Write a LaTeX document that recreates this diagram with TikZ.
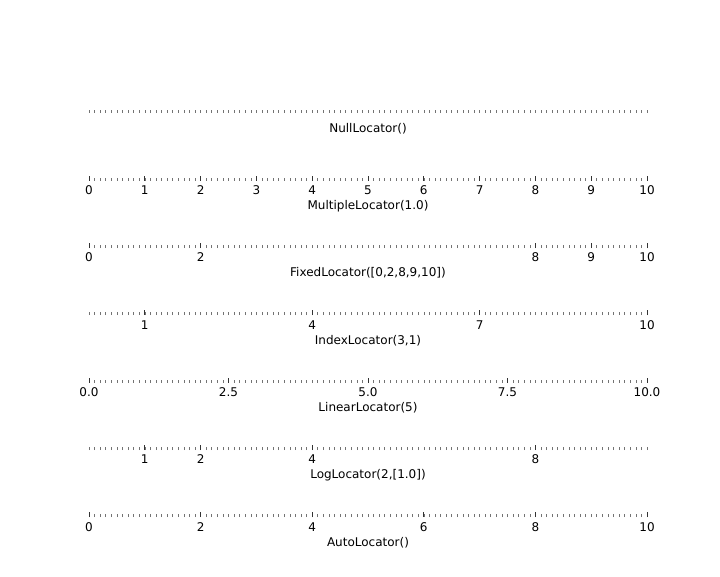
\documentclass[tikz,border=0pt]{standalone}
\usepackage{fontspec}
\setmainfont{DejaVu Sans}
\newcommand\minorrow[1]{%
  \foreach \k in {0,...,100} {\draw[minortick] ({89+5.58*\k},#1+0.5) -- ++(0,-3);}%
}
\begin{document}
\begin{tikzpicture}[x=1pt,y=-1pt,
  majortick/.style={line width=0.9pt, black!80},
  minortick/.style={line width=0.6pt, black!55},
  ticklabel/.style={font=\fontsize{12}{14}\selectfont, inner sep=0pt, anchor=base},
  locname/.style={font=\fontsize{12}{14}\selectfont, inner sep=0pt, anchor=base}]
\useasboundingbox (0,0) rectangle (720,576);
% Row 1: NullLocator
\minorrow{112}
\node[locname] (t1) at (368,132) {NullLocator()};
% Row 2: MultipleLocator
\minorrow{180}
\foreach \v/\t [count=\i] in {0/0,1/1,2/2,3/3,4/4,5/5,6/6,7/7,8/8,9/9,10/10} {
  \draw[majortick] ({89+55.8*\v},180.5) -- ++(0,-5);
  \node[ticklabel] (l2-\i) at ({89+55.8*\v},194) {\t};
}
\node[locname] (t2) at (368,209.5) {MultipleLocator(1.0)};
% Row 3: FixedLocator
\minorrow{247.5}
\foreach \v/\t [count=\i] in {0/0,2/2,8/8,9/9,10/10} {
  \draw[majortick] ({89+55.8*\v},248) -- ++(0,-5);
  \node[ticklabel] (l3-\i) at ({89+55.8*\v},261.5) {\t};
}
\node[locname] (t3) at (368,276.5) {FixedLocator([0,2,8,9,10])};
% Row 4: IndexLocator
\minorrow{314.5}
\foreach \v/\t [count=\i] in {1/1,4/4,7/7,10/10} {
  \draw[majortick] ({89+55.8*\v},315) -- ++(0,-5);
  \node[ticklabel] (l4-\i) at ({89+55.8*\v},329) {\t};
}
\node[locname] (t4) at (368,344) {IndexLocator(3,1)};
% Row 5: LinearLocator
\minorrow{382}
\foreach \v/\t [count=\i] in {0/0.0,2.5/2.5,5/5.0,7.5/7.5,10/10.0} {
  \draw[majortick] ({89+55.8*\v},382.5) -- ++(0,-5);
  \node[ticklabel] (l5-\i) at ({89+55.8*\v},396) {\t};
}
\node[locname] (t5) at (368,411.5) {LinearLocator(5)};
% Row 6: LogLocator
\minorrow{449.5}
\foreach \v/\t [count=\i] in {1/1,2/2,4/4,8/8} {
  \draw[majortick] ({89+55.8*\v},450) -- ++(0,-5);
  \node[ticklabel] (l6-\i) at ({89+55.8*\v},463.5) {\t};
}
\node[locname] (t6) at (368,478.5) {LogLocator(2,[1.0])};
% Row 7: AutoLocator
\minorrow{516.5}
\foreach \v/\t [count=\i] in {0/0,2/2,4/4,6/6,8/8,10/10} {
  \draw[majortick] ({89+55.8*\v},517) -- ++(0,-5);
  \node[ticklabel] (l7-\i) at ({89+55.8*\v},531) {\t};
}
\node[locname] (t7) at (368,546) {AutoLocator()};
\end{tikzpicture}
\end{document}
